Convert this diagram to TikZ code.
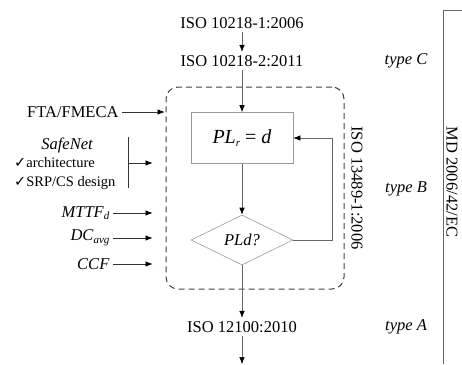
\documentclass[tikz,border=0pt]{standalone}
\usepackage{fontspec}
\setmainfont{Liberation Serif}
\newfontfamily\symfont{DejaVu Sans}
\usetikzlibrary{arrows.meta,shapes.geometric}
\newcommand{\chk}{{\symfont\char"2713}}
\newcommand{\lowidx}[1]{\raisebox{-0.35ex}{\fontsize{11}{12}\selectfont\itshape #1}}

\begin{document}
\begin{tikzpicture}[x=1pt,y=-1pt,>={Latex[length=7pt,width=5.5pt,black]},font=\fontsize{16.5}{19}\selectfont,
  flow/.style={draw=black!60,line width=0.6pt},
  inarrow/.style={draw=black!80,line width=0.6pt,->,shorten >=13pt},
  stdbox/.style={draw=black!40,line width=0.6pt,minimum width=102,minimum height=51},
  decision/.style={diamond,draw=black!40,line width=0.6pt,minimum width=102,minimum height=50,inner sep=0pt,aspect=2},
  level/.style={font=\fontsize{16.5}{19}\selectfont\itshape}]
  \useasboundingbox (0,0) rectangle (462,364);
  % standards chain
  \node (iso1) at (242,23) {ISO 10218-1:2006};
  \node (iso2) at (242,61) {ISO 10218-2:2011};
  \node (iso3) at (242,327) {ISO 12100:2010};
  \coordinate (out) at (242,364);
  % ISO 13849 frame with the PL loop
  \node[draw=black!75,line width=1pt,dash pattern=on 6pt off 4pt,rounded corners=12pt,
        minimum width=178,minimum height=202] (frame) at (255,188) {};
  \node[stdbox,font=\fontsize{20}{22}\selectfont] (plr) at (242,138) {\textit{PL}\lowidx{r} = \textit{d}};
  \node[decision] (plq) at (242,240) {\textit{PLd?}};
  \node[rotate=-90] (iso4) at (357,188) {ISO 13489-1:2006};
  \draw[flow,->] (iso1) -- (iso2);
  \draw[flow,->] (iso2) -- (plr);
  \draw[flow,->] (plr) -- (plq);
  \draw[flow,->] (plq.east) -| ([xshift=39]plr.east) -- (plr.east);
  \draw[flow,->] (plq) -- (iso3);
  \draw[flow,->] (iso3) -- (out);
  % inputs on the left
  \node[anchor=east] (fta) at (122,112) {FTA/FMECA};
  \node[font=\fontsize{16.5}{19}\selectfont\itshape] (safenet) at (67,145) {SafeNet};
  \node[anchor=west,inner sep=0pt,font=\fontsize{14.5}{16}\selectfont] (arch) at (14,163) {\chk architecture};
  \node[anchor=west,inner sep=0pt,font=\fontsize{14.5}{16}\selectfont] (srp) at (14,183) {\chk SRP/CS design};
  \coordinate (bartop) at (128,137);
  \coordinate (barbot) at (128,188);
  \coordinate (barmid) at (128,163);
  \node[anchor=east] (mttf) at (113,213) {\textit{MTTF}\lowidx{d}};
  \node[anchor=east] (dc) at (113,238) {\textit{DC}\lowidx{avg}};
  \node[anchor=east] (ccf) at (113,264) {\textit{CCF}};
  \draw[inarrow,shorten >=1pt] (fta) -- (fta -| frame.west);
  \draw[black!80,line width=0.6pt] (bartop) -- (barbot);
  \draw[inarrow] (barmid) -- (barmid -| frame.west);
  \draw[inarrow] (mttf) -- (mttf -| frame.west);
  \draw[inarrow] (dc) -- (dc -| frame.west);
  \draw[inarrow] (ccf) -- (ccf -| frame.west);
  % standard types and directive
  \node[level] (typec) at (406,61) {type C};
  \node[level] (typeb) at (406,189) {type B};
  \node[level] (typea) at (406,327) {type A};
  \draw[black!60,line width=0.8pt] (462,10) -| (443,364);
  \node[rotate=-90] (md) at (452,182) {MD 2006/42/EC};
\end{tikzpicture}
\end{document}
